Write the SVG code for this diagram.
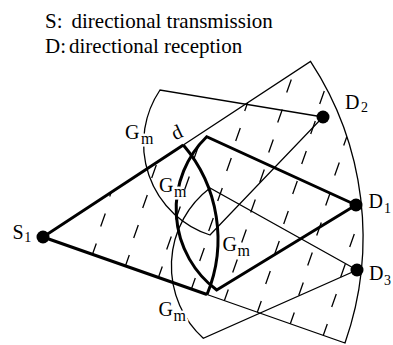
<svg xmlns="http://www.w3.org/2000/svg" width="393" height="345" viewBox="0 0 393 345">
<style>
text{font-family:"Liberation Serif","Times New Roman",serif;fill:#000}
.cap{font-size:21px}
.lbl{font-size:20px}
.sub{font-size:14px}
.gm{font-size:20px;stroke:#fff;stroke-width:5;paint-order:stroke;stroke-linejoin:round}
.gsub{font-size:16px}
.thin{fill:none;stroke:#000;stroke-width:1.3}
.thick{fill:none;stroke:#000;stroke-width:3;stroke-linejoin:miter}
.hatch{fill:none;stroke:#000;stroke-width:1.3}
.dot{fill:#000}
</style>
<defs>
<clipPath id="sec"><path d="M43,237 L310.5,61.4 A320,320 0 0 1 345,343 Z"/></clipPath>
</defs>
<g id="legend">
<text class="cap" y="28"><tspan x="45">S:</tspan><tspan x="71.5">directional transmission</tspan></text>
<text class="cap" y="53"><tspan x="45">D:</tspan><tspan x="69">directional reception</tspan></text>
</g>
<g id="connectors">
<!-- S1 transmission sector -->
<path class="thin" d="M183.3,145 L310.5,61.4 A320,320 0 0 1 345,343 L207,294.5"/>
<path class="thick" d="M183.3,145 L43,237 L207,294.5"/>
<path class="thick" d="M183.3,145 A145,145 0 0 1 207,294.5"/>
<!-- D1 reception sector -->
<path class="thick" d="M356,205 L206.7,136.7 A101,101 0 0 0 216.7,290 Z"/>
<!-- D2 reception sector -->
<path class="thin" d="M323,117 L160,90 A96,96 0 0 0 210,235 Z"/>
<!-- D3 reception sector -->
<path class="thin" d="M357,270 L210,188 A98,98 0 0 0 203.3,338.3 Z"/>
</g>
<g id="labels">
<text class="gm" x="125" y="138.5">G<tspan class="gsub" dx="1.5" dy="5">m</tspan></text>
<text class="gm" x="159" y="192">G<tspan class="gsub" dx="0.5" dy="5">m</tspan></text>
<text class="gm" x="222.5" y="251">G<tspan class="gsub" dx="0.5" dy="5">m</tspan></text>
<text class="gm" x="158.5" y="316">G<tspan class="gsub" dx="0.5" dy="5">m</tspan></text>
<text class="lbl" x="177" y="139" text-anchor="middle" transform="rotate(-25 177 133)">d</text>
</g>
<g id="hatching" clip-path="url(#sec)">
<path class="hatch" d="M91.7,256.5l4.6,-13M100.7,226.5l4.6,-13M109.7,196.5l4.6,-13
M124.7,268l4.6,-13M133.7,238l4.6,-13M142.7,208l4.6,-13M151.7,178l4.6,-13
M157.7,279.5l4.6,-13M166.7,249.5l4.6,-13M175.7,219.5l4.6,-13M184.7,189.5l4.6,-13M193.7,159.5l4.6,-13
M190.7,291l4.6,-13M199.7,261l4.6,-13M208.7,231l4.6,-13M217.7,201l4.6,-13M226.7,171l4.6,-13M235.7,141l4.6,-13M244.7,111l4.6,-13
M223.7,302.5l4.6,-13M232.7,272.5l4.6,-13M241.7,242.5l4.6,-13M250.7,212.5l4.6,-13M259.7,182.5l4.6,-13M268.7,152.5l4.6,-13M277.7,122.5l4.6,-13M286.7,92.5l4.6,-13
M256.7,314l4.6,-13M265.7,284l4.6,-13M274.7,254l4.6,-13M283.7,224l4.6,-13M292.7,194l4.6,-13M301.7,164l4.6,-13M310.7,134l4.6,-13M319.7,104l4.6,-13
M289.7,325.5l4.6,-13M298.7,295.5l4.6,-13M307.7,265.5l4.6,-13M316.7,235.5l4.6,-13M325.7,205.5l4.6,-13M334.7,175.5l4.6,-13M343.7,145.5l4.6,-13
M322.7,337l4.6,-13M331.7,307l4.6,-13M340.7,277l4.6,-13M349.7,247l4.6,-13"/>
</g>
<g id="S1">
<circle class="dot" cx="43" cy="237" r="6.5"/>
<text class="lbl" x="12.5" y="239">S<tspan class="sub" dx="0.5" dy="3">1</tspan></text>
</g>
<g id="D1">
<circle class="dot" cx="356" cy="205" r="6.5"/>
<text class="lbl" x="368.5" y="208">D<tspan class="sub" dx="1" dy="5">1</tspan></text>
</g>
<g id="D2">
<circle class="dot" cx="323" cy="117" r="6.5"/>
<text class="lbl" x="345" y="109">D<tspan class="sub" dx="1.5" dy="3">2</tspan></text>
</g>
<g id="D3">
<circle class="dot" cx="357" cy="270" r="6.5"/>
<text class="lbl" x="369" y="280">D<tspan class="sub" dx="0.5" dy="5">3</tspan></text>
</g>
</svg>
